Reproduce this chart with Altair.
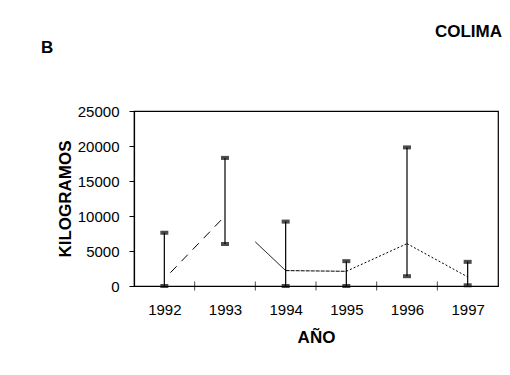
import altair as alt
import pandas as pd

years = [1992, 1993, 1994, 1995, 1996, 1997]
min_vals = [0, 6000, 0, 0, 1400, 100]
max_vals = [7600, 18300, 9200, 3550, 19800, 3450]

seg_x1 = [1992.1, 1993.5, 1994, 1995, 1996]
seg_y1 = [1900, 6300, 2200, 2100, 6050]
seg_x2 = [1993, 1994, 1995, 1996, 1997]
seg_y2 = [10000, 2200, 2100, 6050, 1300]
seg_style = ["dashed", "solid", "fine", "dotted", "dotted"]

boundaries = [1992.5, 1993.5, 1994.5, 1995.5, 1996.5]
y_ticks = [0, 5000, 10000, 15000, 20000, 25000]

rng = pd.DataFrame({"year": years, "lo": min_vals, "hi": max_vals})
ends = pd.DataFrame({"year": years * 2, "v": min_vals + max_vals})
segs = pd.DataFrame({"x1": seg_x1, "y1": seg_y1, "x2": seg_x2, "y2": seg_y2, "style": seg_style})
bnd = pd.DataFrame({"b": boundaries, "z": [0] * len(boundaries)})

FONT = "Liberation Sans"

xscale = alt.Scale(domain=[1991.5, 1997.5], nice=False, zero=False)
yscale = alt.Scale(domain=[0, 25000], nice=False)

xaxis = alt.Axis(values=years, format="d", tickSize=0, labelPadding=16, title="AÑO",
                 titleFontSize=17, titleFontWeight="bold", titlePadding=12, grid=False,
                 labelFontSize=15, labelColor="black", titleColor="black", domainColor="black",
                 labelOverlap=False)
yaxis = alt.Axis(values=y_ticks, format="d", tickSize=5, labelPadding=10,
                 title="KILOGRAMOS", titleFontSize=17, titleFontWeight="bold", titlePadding=3,
                 grid=False, labelFontSize=15, labelColor="black", titleColor="black",
                 domainColor="black", tickColor="black", labelOverlap=False)

rules = alt.Chart(rng).mark_rule(color="black", strokeWidth=1.2).encode(
    x=alt.X("year:Q", scale=xscale, axis=xaxis),
    y=alt.Y("lo:Q", scale=yscale, axis=yaxis),
    y2="hi:Q",
)

caps = alt.Chart(ends).mark_tick(color="black", orient="horizontal", size=8, thickness=4).encode(
    x=alt.X("year:Q", scale=xscale, axis=xaxis),
    y=alt.Y("v:Q", scale=yscale, axis=yaxis),
)

mean = alt.Chart(segs).mark_rule(color="black", strokeWidth=1).encode(
    x=alt.X("x1:Q", scale=xscale, axis=xaxis),
    x2="x2:Q",
    y=alt.Y("y1:Q", scale=yscale, axis=yaxis),
    y2="y2:Q",
    strokeDash=alt.StrokeDash("style:N", legend=None, scale=alt.Scale(
        domain=["dashed", "solid", "fine", "dotted"],
        range=[[9, 7], [1, 0], [4, 1], [2, 2]])),
)

bticks = alt.Chart(bnd).mark_tick(color="black", orient="vertical", size=9, thickness=1).encode(
    x=alt.X("b:Q", scale=xscale, axis=xaxis),
    y=alt.Y("z:Q", scale=yscale, axis=yaxis),
)

label_b = alt.Chart(pd.DataFrame({"t": ["B"]})).mark_text(
    font=FONT, fontSize=17, fontWeight="bold", align="left", baseline="middle", color="black"
).encode(x=alt.value(-93), y=alt.value(-63), text="t:N")

label_state = alt.Chart(pd.DataFrame({"t": ["COLIMA"]})).mark_text(
    font=FONT, fontSize=17, fontWeight="bold", align="right", baseline="middle", color="black"
).encode(x=alt.value(368), y=alt.value(-79), text="t:N")

chart = alt.layer(rules, mean, caps, bticks, label_b, label_state).properties(
    width=364, height=175,
    autosize=alt.AutoSizeParams(type="none"),
    padding={"left": 126, "top": 103, "right": 4, "bottom": 81},
).configure(font=FONT).configure_view(stroke="black", strokeWidth=1.2).configure_axis(
    labelFont=FONT, titleFont=FONT, domainWidth=1.2
)

chart.save("out.html", embed_options={"renderer": "svg", "actions": False})
